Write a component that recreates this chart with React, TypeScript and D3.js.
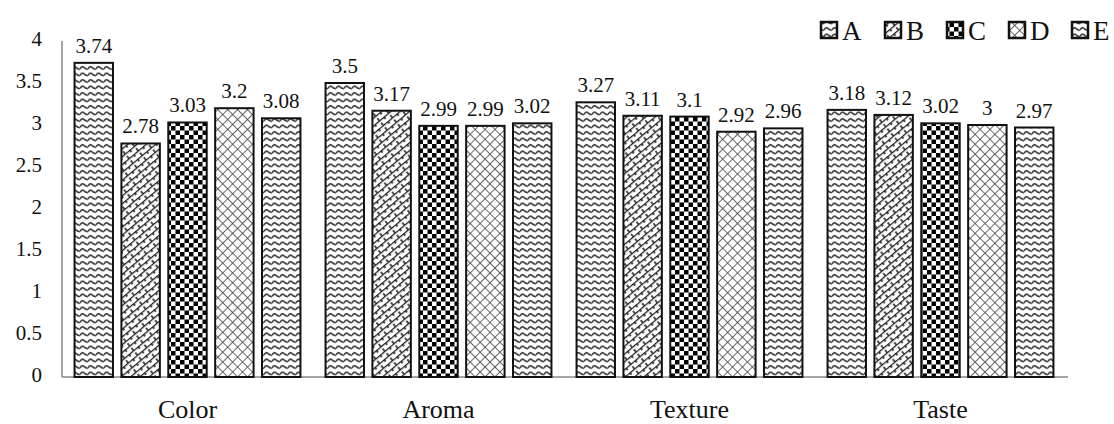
import React from "react";
import * as d3 from "d3";

const categories = ["Color", "Aroma", "Texture", "Taste"];
const series = ["A", "B", "C", "D", "E"];
const valuesA = [3.74, 3.5, 3.27, 3.18];
const valuesB = [2.78, 3.17, 3.11, 3.12];
const valuesC = [3.03, 2.99, 3.1, 3.02];
const valuesD = [3.2, 2.99, 2.92, 3];
const valuesE = [3.08, 3.02, 2.96, 2.97];
const yTicks = [0, 0.5, 1, 1.5, 2, 2.5, 3, 3.5, 4];

const seriesValues = [valuesA, valuesB, valuesC, valuesD, valuesE];
const patternIds = ["pA", "pB", "pC", "pD", "pE"];

const W = 1114;
const H = 424;
const font = "Liberation Serif, Times New Roman, Times, serif";

const Patterns = () => (
  <defs>
    {/* wave pattern */}
    <pattern id="pA" width="8" height="6.5" patternUnits="userSpaceOnUse">
      <rect width="8" height="6.5" fill="#fff" />
      <path d="M0,4 Q2,0.5 4,2.5 Q6,4.5 8,4" fill="none" stroke="#333" strokeWidth="1.5" />
    </pattern>
    <pattern id="pE" width="8" height="6.5" patternUnits="userSpaceOnUse">
      <rect width="8" height="6.5" fill="#fff" />
      <path d="M0,4 Q2,0.5 4,2.5 Q6,4.5 8,4" fill="none" stroke="#333" strokeWidth="1.5" />
    </pattern>
    {/* diagonal bricks */}
    <pattern id="pB" width="12" height="6" patternUnits="userSpaceOnUse" patternTransform="rotate(-40)">
      <rect width="12" height="6" fill="#fff" />
      <line x1="0" y1="0.5" x2="12" y2="0.5" stroke="#222" strokeWidth="1.6" />
      <line x1="3" y1="0" x2="3" y2="3" stroke="#222" strokeWidth="1.6" />
      <line x1="9" y1="3" x2="9" y2="6" stroke="#222" strokeWidth="1.6" />
    </pattern>
    {/* checkerboard */}
    <pattern id="pC" width="9" height="9" patternUnits="userSpaceOnUse">
      <rect width="9" height="9" fill="#fff" />
      <rect x="0" y="0" width="4.5" height="4.5" fill="#000" />
      <rect x="4.5" y="4.5" width="4.5" height="4.5" fill="#000" />
    </pattern>
    {/* diagonal crosshatch */}
    <pattern id="pD" width="7" height="7" patternUnits="userSpaceOnUse" patternTransform="rotate(45)">
      <rect width="7" height="7" fill="#fff" />
      <line x1="0" y1="0" x2="7" y2="0" stroke="#444" strokeWidth="1.6" />
      <line x1="0" y1="0" x2="0" y2="7" stroke="#444" strokeWidth="1.6" />
    </pattern>
  </defs>
);

const App = () => {
  const left = 62;
  const right = 1066;
  const x0 = d3.scaleBand().domain(categories).range([left, right]).paddingInner(0.1).paddingOuter(0.05);
  const x1 = d3.scaleBand().domain(series).range([0, x0.bandwidth()]).paddingInner(0.18);
  const y = d3.scaleLinear().domain([0, 4]).range([377, 41]);
  const ts = { fontFamily: font };

  return (
    <svg width={W} height={H} style={{ position: "absolute", left: 0, top: 0, background: "#fff" }}>
      <Patterns />
      {/* axes */}
      <line x1={left} x2={left} y1={41} y2={y(0)} stroke="#888" strokeWidth={1.5} />
      <line x1={left} x2={right + 2} y1={y(0)} y2={y(0)} stroke="#888" strokeWidth={1.5} />
      {yTicks.map((t) => (
        <text key={t} x={42} y={y(t)} textAnchor="end" dominantBaseline="middle" fontSize={21} fill="#111" style={ts}>
          {t}
        </text>
      ))}
      {categories.map((c, ci) => (
        <g key={c}>
          {series.map((s, si) => {
            const v = seriesValues[si][ci];
            const bx = (x0(c) as number) + (x1(s) as number);
            return (
              <g key={s}>
                <rect
                  x={bx}
                  y={y(v)}
                  width={x1.bandwidth()}
                  height={y(0) - y(v)}
                  fill={`url(#${patternIds[si]})`}
                  stroke="#111"
                  strokeWidth={2}
                />
                <text x={bx + x1.bandwidth() / 2} y={y(v) - 10} textAnchor="middle" fontSize={21} fill="#111" style={ts}>
                  {v}
                </text>
              </g>
            );
          })}
          <text x={(x0(c) as number) + x0.bandwidth() / 2} y={418} textAnchor="middle" fontSize={26} fill="#111" style={ts}>
            {c}
          </text>
        </g>
      ))}
      {/* legend */}
      {series.map((s, si) => {
        const lx = [821, 885, 947, 1009, 1072][si];
        return (
          <g key={s}>
            <rect x={lx} y={22} width={16} height={16} fill={`url(#${patternIds[si]})`} stroke="#111" strokeWidth={2.5} />
            <text x={lx + 21} y={40} fontSize={27} fill="#111" style={ts}>
              {s}
            </text>
          </g>
        );
      })}
    </svg>
  );
};

export default App;
